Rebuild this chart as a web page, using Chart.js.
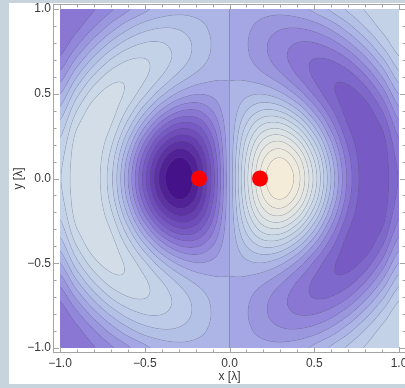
<!DOCTYPE html>
<html lang="en">
<head>
<meta charset="UTF-8">
<title>Field of two sources</title>
<style>
  html, body { margin:0; padding:0; overflow:hidden; }
  body { background:#c8d4dd; width:405px; height:388px; position:relative; }
  .panel { position:absolute; left:9px; top:3px; width:400px; height:381px; background:#fff; }
  canvas { display:block; }
</style>
<script src="https://cdn.jsdelivr.net/npm/chart.js"></script>
</head>
<body>
<div class="panel"><canvas id="plot" width="400" height="381"></canvas></div>
<script>
// sample grid (x left->right, y top->bottom), values
const gridX = [-1.0,-0.9,-0.8,-0.7,-0.6,-0.5,-0.4,-0.3,-0.2,-0.1,0.0,0.1,0.2,0.3,0.4,0.5,0.6,0.7,0.8,0.9,1.0];
const gridY = [1.0,0.9,0.8,0.7,0.6,0.5,0.4,0.3,0.2,0.1,0.0,-0.1,-0.2,-0.3,-0.4,-0.5,-0.6,-0.7,-0.8,-0.9,-1.0];
const field = [
  [-0.365,-0.373,-0.315,-0.222,-0.119,-0.025,0.041,0.070,0.066,0.039,0,-0.039,-0.066,-0.070,-0.041,0.025,0.119,0.222,0.315,0.373,0.365],
  [-0.406,-0.340,-0.217,-0.072,0.058,0.148,0.189,0.184,0.141,0.076,0,-0.076,-0.141,-0.184,-0.189,-0.148,-0.058,0.072,0.217,0.340,0.406],
  [-0.375,-0.233,-0.051,0.121,0.247,0.310,0.310,0.260,0.184,0.094,0,-0.094,-0.184,-0.260,-0.310,-0.310,-0.247,-0.121,0.051,0.233,0.375],
  [-0.282,-0.075,0.141,0.314,0.406,0.415,0.357,0.264,0.166,0.078,0,-0.078,-0.166,-0.264,-0.357,-0.415,-0.406,-0.314,-0.141,0.075,0.282],
  [-0.153,0.103,0.327,0.465,0.493,0.424,0.301,0.170,0.073,0.021,0,-0.021,-0.073,-0.170,-0.301,-0.424,-0.493,-0.465,-0.327,-0.103,0.153],
  [-0.001,0.273,0.475,0.549,0.486,0.326,0.133,-0.023,-0.095,-0.077,0,0.077,0.095,0.023,-0.133,-0.326,-0.486,-0.549,-0.475,-0.273,0.001],
  [0.139,0.411,0.565,0.556,0.386,0.131,-0.125,-0.293,-0.319,-0.203,0,0.203,0.319,0.293,0.125,-0.131,-0.386,-0.556,-0.565,-0.411,-0.139],
  [0.255,0.509,0.580,0.506,0.237,-0.111,-0.424,-0.593,-0.562,-0.339,0,0.339,0.562,0.593,0.424,0.111,-0.237,-0.506,-0.580,-0.509,-0.255],
  [0.338,0.560,0.582,0.430,0.075,-0.348,-0.703,-0.867,-0.781,-0.460,0,0.460,0.781,0.867,0.703,0.348,-0.075,-0.430,-0.582,-0.560,-0.338],
  [0.387,0.575,0.578,0.365,-0.049,-0.520,-0.901,-1.059,-0.932,-0.544,0,0.544,0.932,1.059,0.901,0.520,0.049,-0.365,-0.578,-0.575,-0.387],
  [0.404,0.580,0.575,0.339,-0.095,-0.583,-0.972,-1.128,-0.987,-0.574,0,0.574,0.987,1.128,0.972,0.583,0.095,-0.339,-0.575,-0.580,-0.404],
  [0.387,0.575,0.578,0.365,-0.049,-0.520,-0.901,-1.059,-0.932,-0.544,0,0.544,0.932,1.059,0.901,0.520,0.049,-0.365,-0.578,-0.575,-0.387],
  [0.338,0.560,0.582,0.430,0.075,-0.348,-0.703,-0.867,-0.781,-0.460,0,0.460,0.781,0.867,0.703,0.348,-0.075,-0.430,-0.582,-0.560,-0.338],
  [0.255,0.509,0.580,0.506,0.237,-0.111,-0.424,-0.593,-0.562,-0.339,0,0.339,0.562,0.593,0.424,0.111,-0.237,-0.506,-0.580,-0.509,-0.255],
  [0.139,0.411,0.565,0.556,0.386,0.131,-0.125,-0.293,-0.319,-0.203,0,0.203,0.319,0.293,0.125,-0.131,-0.386,-0.556,-0.565,-0.411,-0.139],
  [-0.001,0.273,0.475,0.549,0.486,0.326,0.133,-0.023,-0.095,-0.077,0,0.077,0.095,0.023,-0.133,-0.326,-0.486,-0.549,-0.475,-0.273,0.001],
  [-0.153,0.103,0.327,0.465,0.493,0.424,0.301,0.170,0.073,0.021,0,-0.021,-0.073,-0.170,-0.301,-0.424,-0.493,-0.465,-0.327,-0.103,0.153],
  [-0.282,-0.075,0.141,0.314,0.406,0.415,0.357,0.264,0.166,0.078,0,-0.078,-0.166,-0.264,-0.357,-0.415,-0.406,-0.314,-0.141,0.075,0.282],
  [-0.375,-0.233,-0.051,0.121,0.247,0.310,0.310,0.260,0.184,0.094,0,-0.094,-0.184,-0.260,-0.310,-0.310,-0.247,-0.121,0.051,0.233,0.375],
  [-0.406,-0.340,-0.217,-0.072,0.058,0.148,0.189,0.184,0.141,0.076,0,-0.076,-0.141,-0.184,-0.189,-0.148,-0.058,0.072,0.217,0.340,0.406],
  [-0.365,-0.373,-0.315,-0.222,-0.119,-0.025,0.041,0.070,0.066,0.039,0,-0.039,-0.066,-0.070,-0.041,0.025,0.119,0.222,0.315,0.373,0.365]
];
const levelStep = 0.1026;

// the two red source markers
const sourceX = [-0.18, 0.18];
const sourceY = [0, 0];

// axis ticks
const tickValues = [-1, -0.5, 0, 0.5, 1];
const tickLabels = ['\u22121.0', '\u22120.5', '0.0', '0.5', '1.0'];
const minorStep = 0.1;

// colour ramp (dark purple -> cream)
const rampAt = [-1.1, -0.9, -0.7, -0.5, -0.3, -0.1, 0.1, 0.3, 0.5, 0.7, 0.9, 1.1];
const rampHex = ['#420e86','#5a2ea0','#6c4ab8','#7c62c8','#8e80d8','#a0a0e2','#b0bce6','#c0cee8','#cedae8','#dce4e6','#eae9e0','#f5ecd8'];

const hexRgb = h => [1, 3, 5].map(i => parseInt(h.substr(i, 2), 16));
const bandCache = {};
function bandColor(k) {
  if (bandCache[k]) return bandCache[k];
  const v = Math.max(rampAt[0], Math.min(rampAt[rampAt.length - 1], (k + 0.5) * levelStep));
  let i = 0;
  while (i < rampAt.length - 2 && v > rampAt[i + 1]) i++;
  const t = (v - rampAt[i]) / (rampAt[i + 1] - rampAt[i]);
  const a = hexRgb(rampHex[i]), b = hexRgb(rampHex[i + 1]);
  return (bandCache[k] = a.map((c, n) => c + (b[n] - c) * t));
}

// smooth lookup between grid samples (Catmull-Rom)
const cr = (p0, p1, p2, p3, t) =>
  p1 + 0.5 * t * (p2 - p0 + t * (2 * p0 - 5 * p1 + 4 * p2 - p3 + t * (3 * (p1 - p2) + p3 - p0)));
function lookup(xv, yv) {
  const nx = gridX.length, ny = gridY.length;
  const fx = (xv - gridX[0]) / (gridX[1] - gridX[0]);
  const fy = (yv - gridY[0]) / (gridY[1] - gridY[0]);
  const ix = Math.max(0, Math.min(nx - 2, Math.floor(fx)));
  const iy = Math.max(0, Math.min(ny - 2, Math.floor(fy)));
  const tx = fx - ix, ty = fy - iy;
  const cx = a => Math.max(0, Math.min(nx - 1, a));
  const cy = a => Math.max(0, Math.min(ny - 1, a));
  const col = [];
  for (let m = -1; m <= 2; m++) {
    const r = field[cy(iy + m)];
    col.push(cr(r[cx(ix - 1)], r[ix], r[ix + 1], r[cx(ix + 2)], tx));
  }
  return cr(col[0], col[1], col[2], col[3], ty);
}

const fieldPlugin = {
  id: 'field',
  beforeDatasetsDraw(chart) {
    const { ctx, scales: { x, y } } = chart;
    const left = Math.round(x.getPixelForValue(gridX[0]));
    const right = Math.round(x.getPixelForValue(gridX[gridX.length - 1]));
    const top = Math.round(y.getPixelForValue(gridY[0]));
    const bottom = Math.round(y.getPixelForValue(gridY[gridY.length - 1]));
    const w = right - left, h = bottom - top;
    const vals = new Float32Array(w * h);
    for (let j = 0; j < h; j++) {
      const yv = y.getValueForPixel(top + j + 0.5);
      for (let i = 0; i < w; i++) vals[j * w + i] = lookup(x.getValueForPixel(left + i + 0.5), yv);
    }
    const img = ctx.createImageData(w, h);
    const line = [80, 80, 105];
    for (let j = 0; j < h; j++) {
      for (let i = 0; i < w; i++) {
        const n = j * w + i, v = vals[n];
        let [r, g, b] = bandColor(Math.floor(v / levelStep));
        const gx = (vals[j * w + Math.min(w - 1, i + 1)] - vals[j * w + Math.max(0, i - 1)]) / 2;
        const gy = (vals[Math.min(h - 1, j + 1) * w + i] - vals[Math.max(0, j - 1) * w + i]) / 2;
        const grad = Math.hypot(gx, gy);
        if (grad > 1e-7) {
          const q = v / levelStep;
          const dist = Math.abs(q - Math.round(q)) * levelStep / grad;
          const a = Math.max(0, 1 - dist / 0.7) * 0.34;
          r = r * (1 - a) + line[0] * a;
          g = g * (1 - a) + line[1] * a;
          b = b * (1 - a) + line[2] * a;
        }
        img.data[n * 4] = r; img.data[n * 4 + 1] = g; img.data[n * 4 + 2] = b; img.data[n * 4 + 3] = 255;
      }
    }
    ctx.putImageData(img, left, top);
  }
};

// Mathematica-like frame with inward ticks on all four sides
const framePlugin = {
  id: 'frame',
  afterDraw(chart) {
    const { ctx, chartArea: a, scales: { x, y } } = chart;
    ctx.save();
    ctx.strokeStyle = '#a4a4a4';
    ctx.lineWidth = 1;
    ctx.strokeRect(a.left + 0.5, a.top + 0.5, a.right - a.left - 1, a.bottom - a.top - 1);
    ctx.beginPath();
    for (let k = -10; k <= 10; k++) {
      const v = k * minorStep;
      const len = k % 5 === 0 ? 6 : 3.5;
      const px = Math.round(x.getPixelForValue(v)) + 0.5;
      ctx.moveTo(px, a.bottom); ctx.lineTo(px, a.bottom - len);
      ctx.moveTo(px, a.top); ctx.lineTo(px, a.top + len);
      const py = Math.round(y.getPixelForValue(v)) + 0.5;
      ctx.moveTo(a.left, py); ctx.lineTo(a.left + len, py);
      ctx.moveTo(a.right, py); ctx.lineTo(a.right - len, py);
    }
    ctx.stroke();
    ctx.restore();
  }
};

const font = { family: '"Liberation Sans", Arial, sans-serif', size: 12 };
const pad = 0.0413, padY = 0.0295;

new Chart(document.getElementById('plot').getContext('2d'), {
  type: 'scatter',
  data: {
    datasets: [{
      data: sourceX.map((v, i) => ({ x: v, y: sourceY[i] })),
      backgroundColor: '#ff0000',
      borderWidth: 0,
      pointRadius: 8,
      pointHoverRadius: 8
    }]
  },
  options: {
    responsive: false,
    animation: false,
    events: [],
    layout: { autoPadding: false, padding: { left: 0, right: 3, top: 1, bottom: 0 } },
    plugins: { legend: { display: false }, tooltip: { enabled: false } },
    scales: {
      x: {
        type: 'linear',
        min: gridX[0] - pad,
        max: gridX[gridX.length - 1] + pad,
        grid: { display: false, drawTicks: false },
        border: { display: false },
        afterBuildTicks: s => { s.ticks = tickValues.map(v => ({ value: v })); },
        afterFit: s => { s.height = 31; s.paddingLeft = 0; s.paddingRight = 0; },
        ticks: { padding: 3, color: '#3a3a3a', font, maxRotation: 0, autoSkip: false,
                 callback: (v, i) => tickLabels[i] },
        title: { display: true, text: 'x [\u03bb]', color: '#3a3a3a', font, padding: { top: 0, bottom: 0 } }
      },
      y: {
        type: 'linear',
        min: gridY[gridY.length - 1] - padY,
        max: gridY[0] + padY,
        grid: { display: false, drawTicks: false },
        border: { display: false },
        afterBuildTicks: s => { s.ticks = tickValues.map(v => ({ value: v })); },
        afterFit: s => { s.width = 44; s.paddingTop = 0; s.paddingBottom = 0; },
        ticks: { padding: 2, color: '#3a3a3a', font, callback: (v, i) => tickLabels[i] },
        title: { display: true, text: 'y [\u03bb]', color: '#3a3a3a', font, padding: { top: 2, bottom: 0 } }
      }
    }
  },
  plugins: [fieldPlugin, framePlugin]
});
</script>
</body>
</html>
